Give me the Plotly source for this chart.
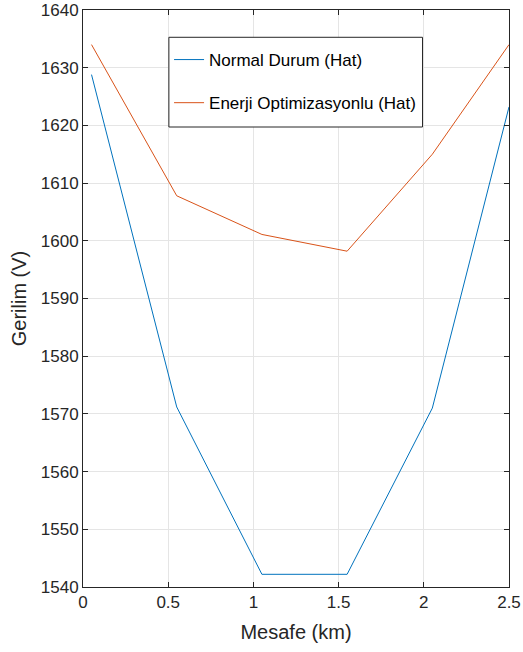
import plotly.graph_objects as go

mesafe = [0.05, 0.55, 1.05, 1.55, 2.05, 2.5]
normal_durum = [1628.8, 1571.2, 1542.2, 1542.2, 1571.0, 1623.2]
enerji_opt = [1634.0, 1607.8, 1601.1, 1598.2, 1615.0, 1634.0]
names = ["Normal Durum (Hat)", "Enerji Optimizasyonlu (Hat)"]
colors = ["#0072BD", "#D95319"]
x_ticks = [0, 0.5, 1, 1.5, 2, 2.5]
x_ticklabels = ["0", "0.5", "1", "1.5", "2", "2.5"]

FONT = "Liberation Sans, Arial, sans-serif"

fig = go.Figure()
fig.add_trace(go.Scatter(x=mesafe, y=normal_durum, mode="lines", name=names[0],
                         line=dict(color=colors[0], width=1), legendgroup="a"))
fig.add_trace(go.Scatter(x=mesafe, y=enerji_opt, mode="lines", name=names[1],
                         line=dict(color=colors[1], width=1), legendgroup="b"))

axis_common = dict(
    showline=True, linecolor="#262626", linewidth=1, mirror="ticks",
    ticks="inside", ticklen=5, tickcolor="#262626", tickwidth=1,
    showgrid=True, gridcolor="#e5e5e5", gridwidth=1, zeroline=False,
    automargin=False,
    tickfont=dict(family=FONT, size=17, color="#262626"),
    title_font=dict(family=FONT, size=20, color="#262626"),
)

# legend frame (box around legend entries)
fig.add_shape(type="rect", xref="paper", yref="paper",
              x0=0.2016, x1=0.797, y0=0.7972, y1=0.9527,
              line=dict(color="#262626", width=1), fillcolor="white", layer="above")

fig.update_layout(
    width=523, height=652,
    margin=dict(l=83, r=13.5, t=10, b=65),
    paper_bgcolor="white", plot_bgcolor="white",
    showlegend=True,
    legend=dict(x=0.202, y=0.9445, xanchor="left", yanchor="top",
                bgcolor="rgba(0,0,0,0)", borderwidth=0,
                font=dict(family=FONT, size=17, color="#000000"),
                tracegroupgap=18, itemwidth=30),
)
fig.update_xaxes(range=[0, 2.5], tickvals=x_ticks, ticktext=x_ticklabels,
                 title_text="Mesafe (km)", title_standoff=13, **axis_common)
fig.update_yaxes(range=[1540, 1640], dtick=10, title_text="Gerilim (V)",
                 title_standoff=8, **axis_common)

fig.write_html("out.html", config={"displayModeBar": False},
               post_script="document.body.style.margin='0';document.body.style.overflow='hidden';")
